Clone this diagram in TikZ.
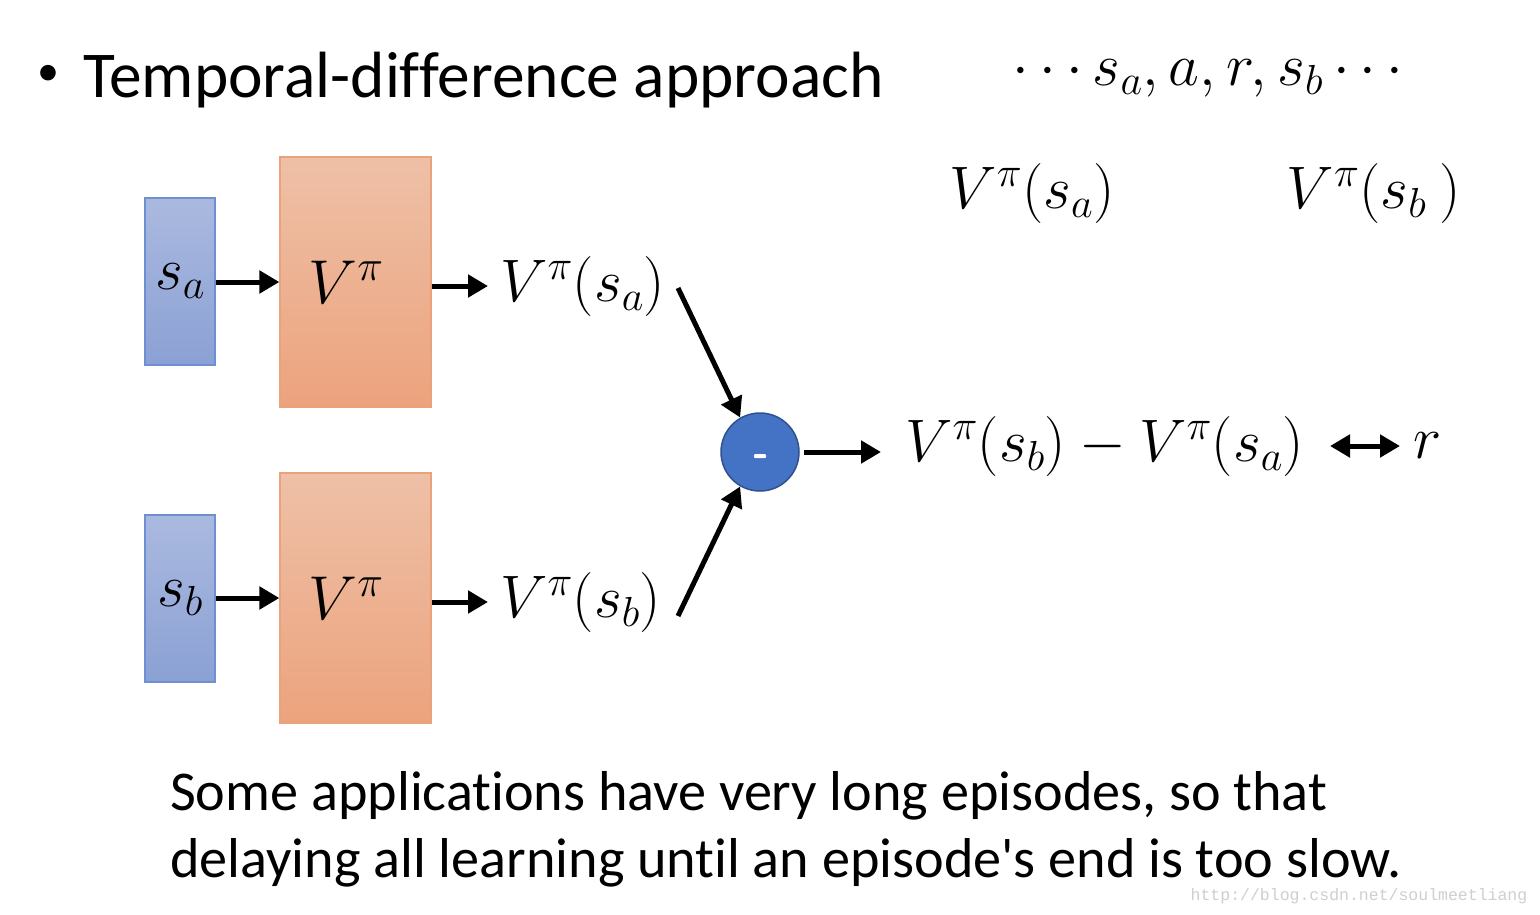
\RequirePackage{fix-cm}
\documentclass[tikz,border=0pt]{standalone}
\usepackage{fontspec}
\setmainfont{Carlito}[Ligatures={TeX,NoCommon}]
\newfontfamily\aposfont{Carlito}
\newfontfamily\wmfont{Liberation Mono}
\usetikzlibrary{arrows.meta}
\definecolor{bluetop}{HTML}{AAB9DF}
\definecolor{bluebot}{HTML}{8BA1D4}
\definecolor{blueedge}{HTML}{6F8FD3}
\definecolor{orgtop}{HTML}{EEC0A7}
\definecolor{orgbot}{HTML}{ECA37D}
\definecolor{orgedge}{HTML}{E9A27C}
\definecolor{circfill}{HTML}{4472C4}
\definecolor{circedge}{HTML}{2F528F}
\definecolor{wmgray}{HTML}{CFCFCF}
\tikzset{
  sbox/.style={draw=blueedge, line width=1.2pt, top color=bluetop, bottom color=bluebot,
    minimum width=70pt, minimum height=167pt, inner sep=0pt},
  vbox/.style={draw=orgedge, line width=1.2pt, top color=orgtop, bottom color=orgbot,
    minimum width=151pt, minimum height=250pt, inner sep=0pt},
  mlab/.style={inner sep=0pt, font=\fontsize{60}{66}\selectfont},
  bigarrow/.style={line width=5pt, -{Triangle[length=20pt,width=22pt]}},
  dblarrow/.style={line width=5pt, {Triangle[length=20pt,width=22pt]}-{Triangle[length=20pt,width=22pt]}},
}
\begin{document}
\begin{tikzpicture}[x=1pt,y=-1pt]
\useasboundingbox[fill=white] (0,0) rectangle (1540,914);
% title
\node[inner sep=0pt, font=\fontsize{44}{50}\selectfont] (bullet) at (48,75) {\textbullet};
\node[anchor=base west, inner sep=0pt, font=\fontsize{65.4}{70}\selectfont] (title) at (83,97) {Temporal-difference approach};
\node[mlab, anchor=center] (seq) at (1208,78) {$\cdots s_a, a, r, s_b \cdots$};
\node[mlab, anchor=center] (vsa top) at (1032,193) {$V^\pi(s_a)$};
\node[mlab, anchor=center] (vsb top) at (1374,193) {$V^\pi(s_b\ )$};
% upper row
\node[sbox] (sa) at (180,281.5) {};
\node[mlab] at (sa.center) {$s_a$};
\node[vbox] (va) at (355.5,282) {};
\node[mlab, font=\fontsize{62}{68}\selectfont] at (346,282) {$V^\pi$};
\node[mlab, anchor=west] (la) at (500,286) {$V^\pi(s_a)$};
\coordinate (lae) at (488,286);
% lower row
\node[sbox] (sb) at (180,598.5) {};
\node[mlab] at (sb.center) {$s_b$};
\node[vbox] (vb) at (355.5,598) {};
\node[mlab, font=\fontsize{62}{68}\selectfont] at (346,598) {$V^\pi$};
\node[mlab, anchor=west] (lb) at (500,602) {$V^\pi(s_b)$};
\coordinate (lbe) at (488,602);
% circle
\node[circle, draw=circedge, line width=1.5pt, fill=circfill, minimum size=78pt, inner sep=0pt] (minus) at (760,452) {};
\node[fill=white, minimum width=12pt, minimum height=4pt, inner sep=0pt, rounded corners=1pt] at (760,456) {};
\node[mlab, anchor=west] (diff) at (905,446) {$V^\pi(s_b) - V^\pi(s_a)$};
\node[mlab, anchor=west] (r) at (1413,446) {$r$};
\coordinate (dl) at (1330,446);
\coordinate (dr) at (1400,446);
% arrows
\draw[bigarrow] (sa.east |- 0,282) -- (va.west |- 0,282);
\draw[bigarrow] (sb.east |- 0,598) -- (vb.west |- 0,598);
\draw[bigarrow] (va.east |- 0,286) -- (lae);
\draw[bigarrow] (vb.east |- 0,602) -- (lbe);
\coordinate (ta) at (678,288);
\coordinate (tb) at (678,616);
\draw[bigarrow] (ta) -- (minus.120);
\draw[bigarrow] (tb) -- (minus.240);
\draw[bigarrow] (minus.east) ++(4,0) coordinate (mo) -- (881,452) coordinate (mend);
\draw[dblarrow] (dl) -- (dr);
% bottom text
\node[anchor=base west, inner sep=0pt, align=left, font=\fontsize{56.2}{67}\selectfont] (note) at (170,877)
  {Some applications have very long episodes, so that\\delaying all learning until an episode{\aposfont\char"27}s end is too slow.};
\node[anchor=center, inner sep=0pt, text=wmgray, font=\wmfont\fontsize{16.5}{20}\selectfont] (wm) at (1359,896) {http://blog.csdn.net/soulmeetliang};
\end{tikzpicture}
\end{document}
